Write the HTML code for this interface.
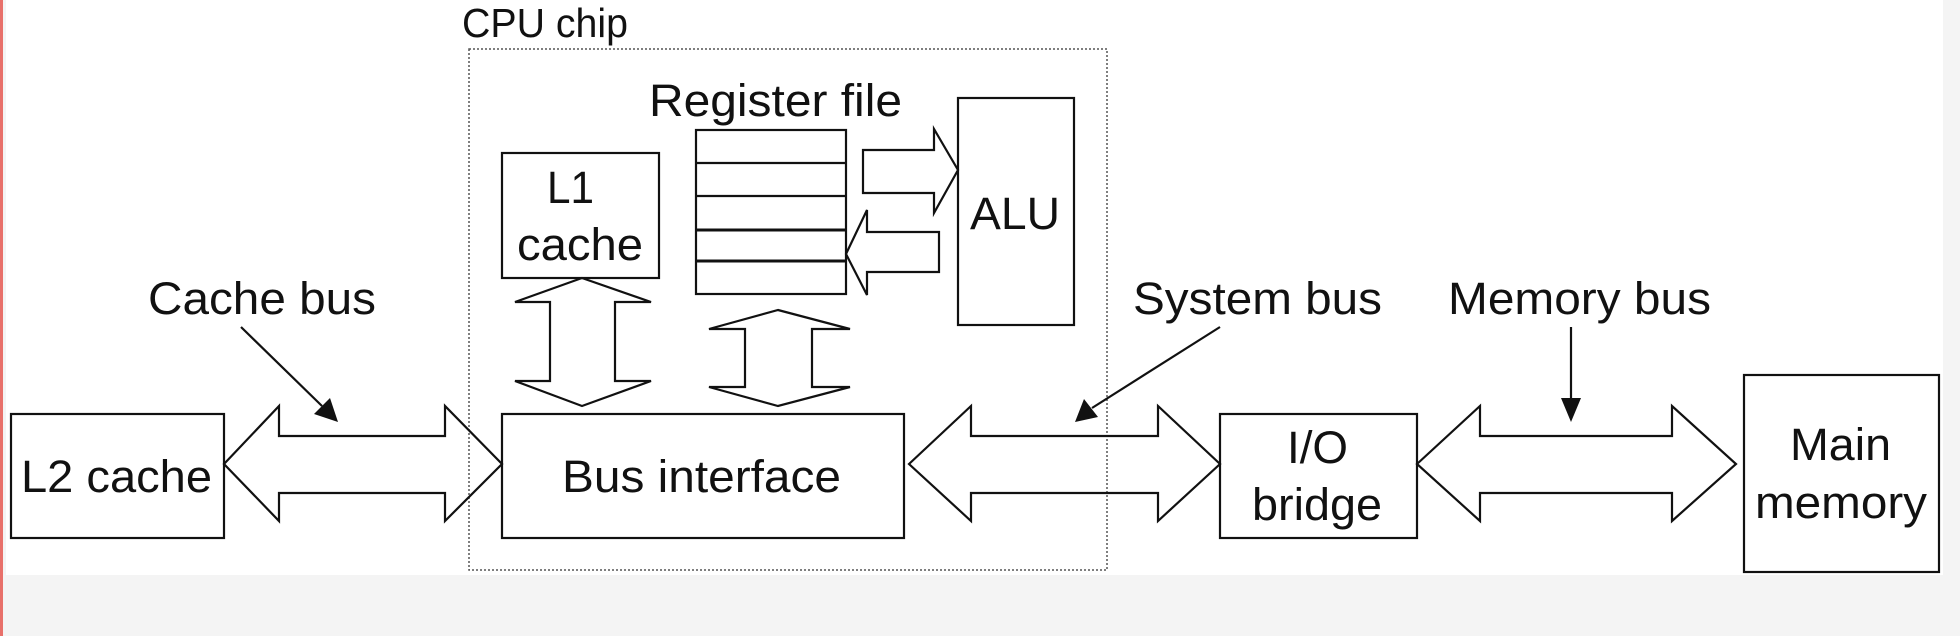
<!DOCTYPE html>
<html><head><meta charset="utf-8"><style>
html,body{margin:0;padding:0;background:#f4f4f4;}
svg{display:block;}
text{font-family:"Liberation Sans",sans-serif;font-size:45px;fill:#111;}
</style></head><body>
<svg width="1960" height="636" viewBox="0 0 1960 636" xmlns="http://www.w3.org/2000/svg">
<rect x="0" y="0" width="1960" height="636" fill="#f4f4f4"/>
<rect x="0" y="0" width="3" height="636" fill="#e8706a"/>
<rect x="6" y="0" width="1937" height="575" fill="#ffffff"/>
<g fill="none" stroke="#111" stroke-width="2.2">
<rect x="469" y="49" width="638" height="521" stroke="#555" stroke-dasharray="2,2" stroke-width="1.5"/>
<rect x="11" y="414" width="213" height="124"/>
<rect x="502" y="414" width="402" height="124"/>
<rect x="1220" y="414" width="197" height="124"/>
<rect x="1744" y="375" width="195" height="197"/>
<rect x="502" y="153" width="157" height="125"/>
<rect x="958" y="98" width="116" height="227"/>
<rect x="696" y="130" width="150" height="164"/>
<line x1="696" y1="163" x2="846" y2="163"/>
<line x1="696" y1="196" x2="846" y2="196"/>
<line x1="696" y1="230" x2="846" y2="230" stroke-width="3"/>
<line x1="696" y1="261" x2="846" y2="261" stroke-width="3"/>
<polygon points="224,464 279,406 279,436 445,436 445,406 502,464 445,521 445,493 279,493 279,521"/>
<polygon points="909,464 971,406 971,436 1158,436 1158,406 1220,464 1158,521 1158,493 971,493 971,521"/>
<polygon points="1417,464 1480,406 1480,436 1672,436 1672,406 1736,464 1672,521 1672,493 1480,493 1480,521"/>
<polygon points="582,278 651,302 615,302 615,381 651,381 582,406 515,381 550,381 550,302 515,302"/>
<polygon points="778,310 850,329 812,329 812,387 850,387 778,406 709,387 745,387 745,329 709,329"/>
<polygon points="863,150 934,150 934,129 958,170 934,213 934,193 863,193"/>
<polygon points="939,232 867,232 867,210 846,254 867,295 867,272 939,272"/>
<line x1="241" y1="327" x2="322" y2="406"/>
<line x1="1220" y1="327" x2="1092" y2="408"/>
<line x1="1571" y1="327" x2="1571" y2="400"/>
</g>
<g fill="#111">
<polygon points="338,422 314,414 330,398"/>
<polygon points="1075,422 1084,399 1098,417"/>
<polygon points="1571,422 1561,398 1581,398"/>
</g>
<text x="462" y="37" textLength="166" lengthAdjust="spacingAndGlyphs" style="font-size:41px">CPU chip</text>
<text x="649" y="116" textLength="253" lengthAdjust="spacingAndGlyphs">Register file</text>
<text x="547" y="203" textLength="47" lengthAdjust="spacingAndGlyphs">L1</text>
<text x="517" y="260" textLength="126" lengthAdjust="spacingAndGlyphs">cache</text>
<text x="970" y="229" textLength="90" lengthAdjust="spacingAndGlyphs">ALU</text>
<text x="148" y="314" textLength="228" lengthAdjust="spacingAndGlyphs">Cache bus</text>
<text x="1133" y="314" textLength="249" lengthAdjust="spacingAndGlyphs">System bus</text>
<text x="1448" y="314" textLength="263" lengthAdjust="spacingAndGlyphs">Memory bus</text>
<text x="21" y="492" textLength="191" lengthAdjust="spacingAndGlyphs">L2 cache</text>
<text x="562" y="492" textLength="279" lengthAdjust="spacingAndGlyphs">Bus interface</text>
<text x="1287" y="463" textLength="61" lengthAdjust="spacingAndGlyphs">I/O</text>
<text x="1252" y="520" textLength="130" lengthAdjust="spacingAndGlyphs">bridge</text>
<text x="1790" y="460" textLength="101" lengthAdjust="spacingAndGlyphs">Main</text>
<text x="1755" y="518" textLength="172" lengthAdjust="spacingAndGlyphs">memory</text>
</svg>
</body></html>
